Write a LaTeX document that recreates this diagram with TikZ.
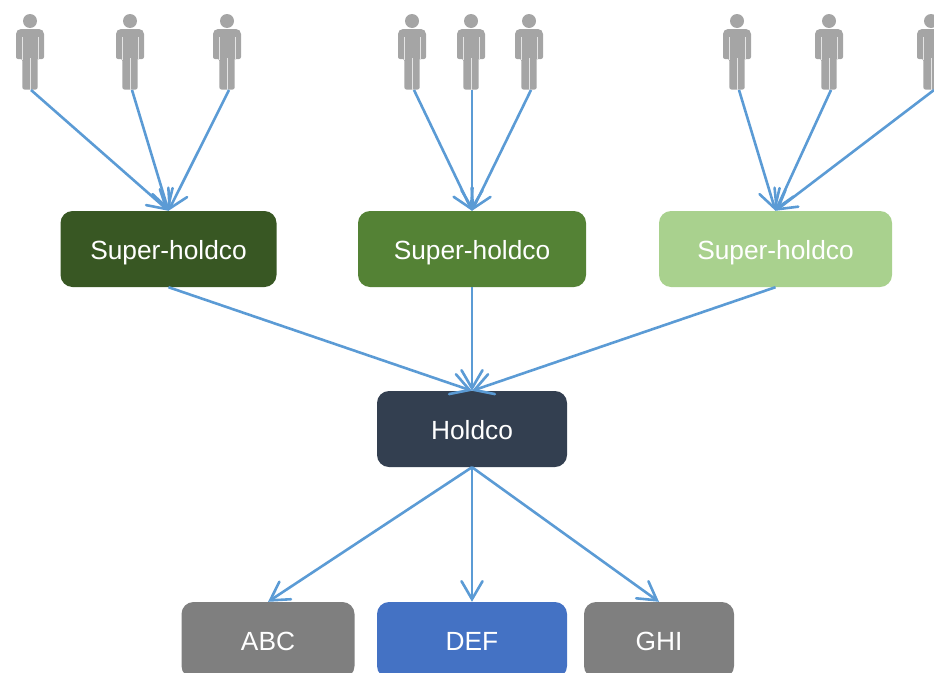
\documentclass[tikz,border=0pt]{standalone}
\usepackage{fontspec}
\setmainfont{Liberation Sans}
\usetikzlibrary{arrows.meta}
\definecolor{linkblue}{HTML}{5B9BD5}
\definecolor{persongray}{HTML}{A5A5A5}
\definecolor{darkgreen}{HTML}{385723}
\definecolor{midgreen}{HTML}{548235}
\definecolor{lightgreen}{HTML}{A9D18E}
\definecolor{navybox}{HTML}{333F50}
\definecolor{graybox}{HTML}{7F7F7F}
\definecolor{bluebox}{HTML}{4472C4}
\tikzset{>={Straight Barb[length=18pt,width=21pt,line cap=round]}}
\tikzset{company/.style={rounded corners=12pt, text=white, minimum height=76pt, inner sep=0pt, text height=24pt, text depth=4pt, font=\fontsize{26.3}{30}\selectfont}}
\tikzset{link/.style={->, linkblue, line width=2.6pt}}
\tikzset{person/.pic={
\fill[persongray] (0,21) circle (7);
\fill[persongray, rounded corners=5pt] (0,29) -- (-14,29) [rounded corners=2pt] -- (-14,59) -- (-7.6,59) [sharp corners] -- (-7.6,86) [rounded corners=2pt] -- (-7.6,89.5) -- (7.6,89.5) [sharp corners] -- (7.6,59) [rounded corners=2pt] -- (14,59) [rounded corners=5pt] -- (14,29) -- cycle;
\draw[white!70!persongray, line width=0.8pt] (-8,37) -- (-8,59.5) (8,37) -- (8,59.5) (0,58) -- (0,90);
}}

\begin{document}
\begin{tikzpicture}[x=1pt, y=-1pt]
\useasboundingbox (0,0) rectangle (934,672);
\clip (0,0) rectangle (934,672);
\foreach \x/\foot/\name in {30/31/p1, 130/132/p2, 227/229/p3, 412/414/p4, 471/472/p5, 529/531/p6, 737/739/p7, 829/831/p8, 931/934/p9} {
\pic at (\x,0) {person};
\coordinate (\name) at (\foot,90);
}
\node[company, fill=darkgreen, minimum width=216pt] (sh1) at (168.5,249) {Super-holdco};
\node[company, fill=midgreen, minimum width=228pt] (sh2) at (472,249) {Super-holdco};
\node[company, fill=lightgreen, minimum width=233pt] (sh3) at (775.5,249) {Super-holdco};
\node[company, fill=navybox, minimum width=190pt] (holdco) at (472,429) {Holdco};
\node[company, fill=graybox, minimum width=173pt] (abc) at (268,640) {ABC};
\node[company, fill=bluebox, minimum width=190pt] (def) at (472,640) {DEF};
\node[company, fill=graybox, minimum width=150pt] (ghi) at (659,640) {GHI};
\foreach \a in {p1,p2,p3} \draw[link] (\a) -- (sh1.north);
\foreach \a in {p4,p5,p6} \draw[link] (\a) -- (sh2.north);
\foreach \a in {p7,p8,p9} \draw[link] (\a) -- (sh3.north);
\foreach \a in {sh1,sh2,sh3} \draw[link] (\a.south) -- (holdco.north);
\foreach \a in {abc,def,ghi} \draw[link] (holdco.south) -- (\a.north);
\end{tikzpicture}
\end{document}
